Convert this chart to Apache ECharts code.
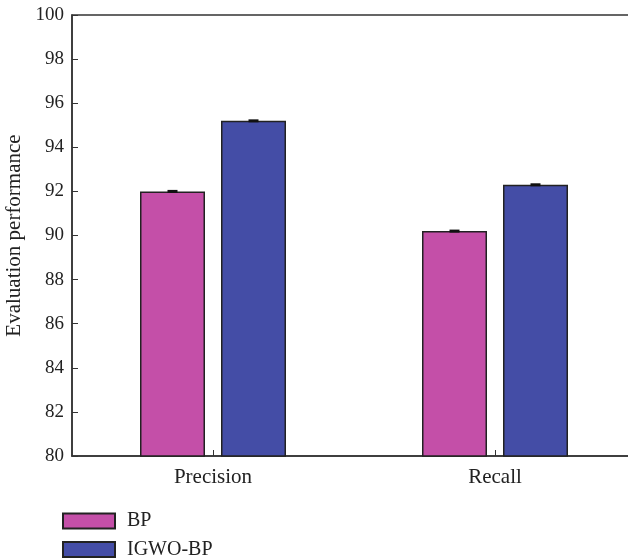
<!DOCTYPE html>
<html>
<head>
<meta charset="utf-8">
<script src="https://cdn.jsdelivr.net/npm/echarts@6/dist/echarts.min.js"></script>
<style>
html,body{margin:0;padding:0;background:#fff;}
#chart{width:628px;height:559px;}
</style>
</head>
<body>
<div id="chart"></div>
<script>
var categories = ['Precision', 'Recall'];
var seriesNames = ['BP', 'IGWO-BP'];
var bpValues = [92.0, 90.2];
var igwoValues = [95.2, 92.3];
var bpErr = [0.03, 0.03];
var igwoErr = [0.03, 0.03];
var yTicks = [80, 82, 84, 86, 88, 90, 92, 94, 96, 98, 100];

var FONT = '"Liberation Serif", "DejaVu Serif", serif';
var BAR_W = 65, BAR_GAP = 16;

var errData = [];
for (var i = 0; i < categories.length; i++) {
  errData.push([i, bpValues[i], bpErr[i], -1]);
  errData.push([i, igwoValues[i], igwoErr[i], 1]);
}

function legendFor(name, top) {
  return {
    orient: 'vertical',
    left: 62, top: top,
    padding: 0,
    itemWidth: 52, itemHeight: 15,
    icon: 'rect',
    data: [name],
    textStyle: {fontFamily: FONT, fontSize: 20, lineHeight: 16, color: '#222', padding: [0, 0, 0, 7]}
  };
}

var chart = echarts.init(document.getElementById('chart'), null, {renderer: 'canvas'});
chart.setOption({
  animation: false,
  backgroundColor: '#fff',
  grid: {
    left: 72, top: 15, bottom: 103, right: -8,
    outerBoundsMode: 'none', containLabel: false,
    show: true, borderColor: '#333', borderWidth: 1.5, backgroundColor: 'transparent'
  },
  legend: [legendFor(seriesNames[0], 511), legendFor(seriesNames[1], 539.5)],
  xAxis: {
    type: 'category',
    data: categories,
    axisLine: {show: true, lineStyle: {color: '#333', width: 1.5}},
    axisTick: {show: true, inside: true, length: 6, alignWithLabel: true, lineStyle: {color: '#333'}},
    axisLabel: {fontFamily: FONT, fontSize: 21, color: '#222', margin: 11},
    splitLine: {show: false}
  },
  yAxis: {
    type: 'value',
    min: yTicks[0], max: yTicks[yTicks.length - 1], interval: 2,
    name: 'Evaluation performance',
    nameLocation: 'middle', nameGap: 45,
    nameTextStyle: {fontFamily: FONT, fontSize: 21, color: '#222'},
    axisLine: {show: true, lineStyle: {color: '#333', width: 1.5}},
    axisTick: {show: true, inside: true, length: 6, lineStyle: {color: '#333'}},
    axisLabel: {fontFamily: FONT, fontSize: 19, color: '#222', margin: 8},
    splitLine: {show: false}
  },
  series: [
    {
      name: seriesNames[0], type: 'bar', data: bpValues,
      barWidth: BAR_W, barGap: (BAR_GAP / BAR_W * 100) + '%',
      itemStyle: {color: '#C44FA8', borderColor: '#222', borderWidth: 1.5}
    },
    {
      name: seriesNames[1], type: 'bar', data: igwoValues,
      barWidth: BAR_W,
      itemStyle: {color: '#444DA6', borderColor: '#222', borderWidth: 1.5}
    },
    {
      type: 'custom', z: 10, silent: true,
      data: errData,
      encode: {x: 0, y: 1},
      renderItem: function (params, api) {
        var cat = api.value(0), v = api.value(1), e = api.value(2), side = api.value(3);
        var top = api.coord([cat, v + e]);
        var bot = api.coord([cat, v - e]);
        var cx = top[0] + side * (BAR_W + BAR_GAP) / 2;
        var h = Math.max(bot[1] - top[1], 3);
        var cy = (top[1] + bot[1]) / 2;
        return {
          type: 'rect',
          shape: {x: cx - 5, y: cy - h / 2, width: 10, height: h},
          style: {fill: '#111'}
        };
      }
    }
  ]
});
</script>
</body>
</html>
